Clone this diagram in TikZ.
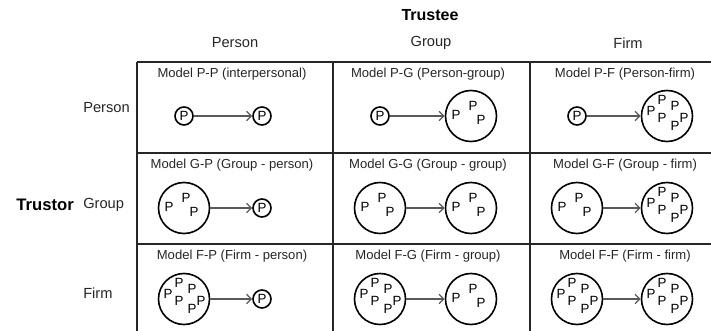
\documentclass[tikz,border=0pt]{standalone}
\usepackage{fontspec}
\setmainfont{Liberation Sans}
\usetikzlibrary{arrows.meta}
\tikzset{
  >={Straight Barb[length=3.5pt,width=7pt]},
  prs/.style={circle, draw, line width=1.2pt, minimum size=13.5pt, inner sep=0pt,
    font=\fontsize{10}{10}\selectfont},
  crowd/.style={circle, draw, line width=1.2pt, minimum size=38.25pt, inner sep=0pt},
  pl/.style={inner sep=0pt, font=\fontsize{10}{10}\selectfont},
  arr/.style={->, black!65, line width=1pt},
  ttl/.style={text=black!85, font=\fontsize{9.8}{11}\selectfont},
  hdr/.style={text=black!85, font=\fontsize{11}{12}\selectfont}
}
\begin{document}
\begin{tikzpicture}[x=0.75pt,y=-0.75pt]
\useasboundingbox (0,0) rectangle (711,331);

% headings
\node[font=\bfseries\fontsize{12}{13}\selectfont] (trustee) at (430,15) {Trustee};
\node[font=\bfseries\fontsize{12.5}{13}\selectfont, anchor=east, inner sep=0pt] (trustor) at (74,205) {Trustor};
\foreach \x/\txt in {235/Person, 431/Group, 628/Firm}
  \node[hdr] (col\txt) at (\x,43) {\txt};
\foreach \y/\txt in {108/Person, 205/Group, 293/Firm}
  \node[hdr, anchor=west, inner sep=0pt] (row\txt) at (83,\y) {\txt};

% table lines
\draw[line width=1.8pt, black!85] (137,62) -- (711,62);
\foreach \y in {153,244}
  \draw[line width=1.2pt, black!85] (137,\y) -- (711,\y);
\foreach \x in {137,333,530}
  \draw[line width=1.2pt, black!85] (\x,62) -- (\x,331);

% cell titles
\foreach \x/\y/\nm/\txt in {232/74/t11/{Model P-P (interpersonal)},
    428/74/t12/{Model P-G (Person-group)}, 625/74/t13/{Model P-F (Person-firm)},
    232/165/t21/{Model G-P (Group - person)}, 428/165/t22/{Model G-G (Group - group)},
    625/165/t23/{Model G-F (Group - firm)},
    232/256/t31/{Model F-P (Firm - person)}, 428/256/t32/{Model F-G (Firm - group)},
    625/256/t33/{Model F-F (Firm - firm)}}
  \node[ttl] (\nm) at (\x,\y) {\txt};

% single persons
\foreach \nm/\x/\y in {a11/184/116, b11/262/116, a12/380/116, a13/577/116,
    b21/262/208, b31/262/299}
  \node[prs] (\nm) at (\x,\y) {P};

% groups
\foreach \nm/\x/\y in {b12/471/116, a21/184/208, a22/380/208, b22/471/208,
    a23/577/208, b32/471/299}
{
  \node[crowd] (\nm) at (\x,\y) {};
  \foreach \dx/\dy [count=\i] in {-15/-1, 2/-10, 10/4}
    \node[pl] (\nm-\i) at ([shift={(\dx,\dy)}]\nm.center) {P};
}

% firms
\foreach \nm/\x/\y in {b13/667/116, b23/667/208, a31/184/299, a32/380/299,
    a33/577/299, b33/667/299}
{
  \node[crowd] (\nm) at (\x,\y) {};
  \foreach \dx/\dy [count=\i] in {-5/-16, -16/-5, 8/-10, -5/2, 8/10, 17/2}
    \node[pl] (\nm-\i) at ([shift={(\dx,\dy)}]\nm.center) {P};
}

% trust relations
\foreach \r in {1,2,3}
  \foreach \c in {1,2,3}
    \draw[arr] (a\r\c) -- (b\r\c);
\end{tikzpicture}
\end{document}
